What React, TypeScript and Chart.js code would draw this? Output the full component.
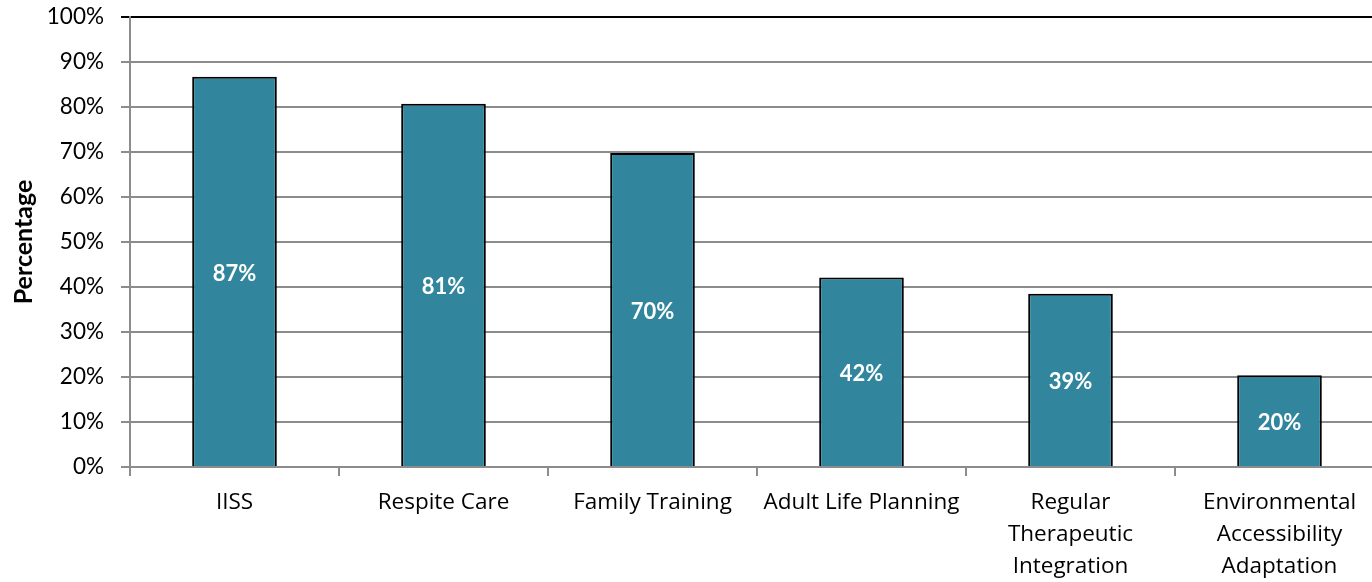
import React, { useEffect, useRef } from "react";
import { Chart, registerables } from "chart.js";

Chart.register(...registerables);

const categories: (string | string[])[] = [
  "IISS",
  "Respite Care",
  "Family Training",
  "Adult Life Planning",
  ["Regular", "Therapeutic", "Integration"],
  ["Environmental", "Accessibility", "Adaptation"],
];
const values: number[] = [86.7, 80.7, 69.8, 42.1, 38.5, 20.4];
const valueLabels: string[] = ["87%", "81%", "70%", "42%", "39%", "20%"];
const yTitle = "Percentage";

const FONT = "Lato, 'Open Sans', sans-serif";
const XFONT = "'Open Sans', sans-serif";

const labelPlugin = {
  id: "barLabels",
  afterDatasetsDraw(chart: any) {
    const meta = chart.getDatasetMeta(0);
    const ctx = chart.ctx;
    ctx.save();
    ctx.fillStyle = "#ffffff";
    ctx.font = `bold 22px ${FONT}`;
    ctx.textAlign = "center";
    ctx.textBaseline = "middle";
    meta.data.forEach((bar: any, i: number) => {
      const mid = (bar.y + bar.base) / 2;
      ctx.fillText(valueLabels[i], bar.x, mid + 2);
    });
    ctx.restore();
  },
};

export default function App() {
  const ref = useRef<HTMLCanvasElement>(null);
  useEffect(() => {
    document.body.style.margin = "0";
    const chart = new Chart(ref.current!, {
      type: "bar",
      data: {
        labels: categories as any,
        datasets: [
          {
            data: values,
            backgroundColor: "#31869E",
            borderColor: "#000000",
            borderWidth: 2,
            borderSkipped: "bottom",
            barPercentage: 0.81,
            categoryPercentage: 0.5,
          },
        ],
      },
      options: {
        animation: false,
        responsive: false,
        maintainAspectRatio: false,
        layout: { padding: { top: 17, right: 0, left: 0, bottom: 0 } },
        plugins: { legend: { display: false }, tooltip: { enabled: false } },
        scales: {
          x: {
            grid: {
              display: true,
              drawOnChartArea: false,
              drawTicks: true,
              tickLength: 9,
              color: "#8c8c8c",
              lineWidth: 2,
              offset: true,
            },
            border: { color: "#8c8c8c", width: 2 },
            ticks: {
              color: "#000000",
              font: { family: XFONT, size: 22.5, lineHeight: 1.42 },
              padding: 11,
              maxRotation: 0,
              minRotation: 0,
              autoSkip: false,
            },
            afterFit: (scale: any) => {
              scale.height = 115;
              scale.paddingLeft = 0;
              scale.paddingRight = 0;
            },
          },
          y: {
            min: 0,
            max: 100,
            ticks: {
              stepSize: 10,
              color: "#000000",
              font: { family: FONT, size: 22.5 },
              padding: 17,
              callback: (v: any) => `${v}%`,
            },
            grid: {
              color: (c: any) => (c.tick && c.tick.value === 100 ? "#000000" : "#8c8c8c"),
              lineWidth: 2,
              tickLength: 9,
            },
            border: { color: "#8c8c8c", width: 2 },
            title: {
              display: true,
              text: yTitle,
              color: "#000000",
              font: { family: FONT, size: 25, weight: "bold" },
              padding: { top: 9, bottom: 0 },
            },
            afterFit: (scale: any) => {
              scale.width = 130;
              scale.paddingTop = 0;
              scale.paddingBottom = 0;
            },
          },
        },
      },
      plugins: [labelPlugin],
    });
    return () => chart.destroy();
  }, []);
  return (
    <div style={{ position: "relative", width: 1372, height: 582, overflow: "hidden" }}>
      <canvas ref={ref} width={1384} height={582} style={{ display: "block" }} />
    </div>
  );
}
